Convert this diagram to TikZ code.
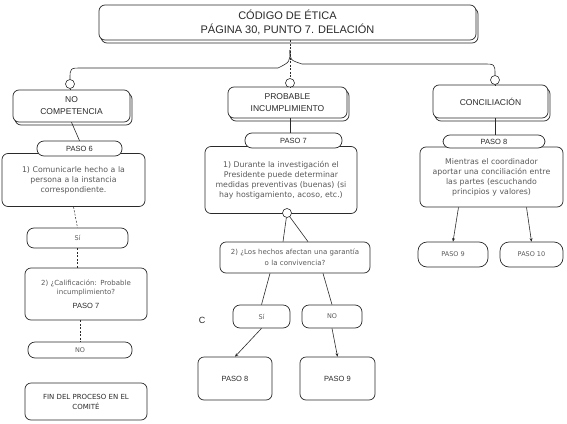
\documentclass[tikz,border=0pt]{standalone}
\usepackage{fontspec}
\setmainfont{Liberation Sans}
\newfontfamily\smallf{DejaVu Sans}
\usetikzlibrary{shadows,arrows.meta,calc}
\definecolor{ink}{HTML}{2A2A2A}
\definecolor{txt}{HTML}{5A5A5A}
\begin{document}
\begin{tikzpicture}[x=1pt,y=-1pt,
  line/.style={draw=ink, line width=0.6pt},
  dline/.style={draw=ink, line width=0.5pt, dash pattern=on 2pt off 1.5pt},
  arr/.style={line, -{Stealth[length=3.5pt,width=3pt]}},
  box/.style={draw=ink, line width=0.7pt, rounded corners=6pt, fill=white, inner sep=1pt, align=center, text=txt, font=\smallf\fontsize{7.8}{10}\selectfont},
  pill/.style={box, rounded corners=7pt, text=ink, font=\fontsize{7.5}{8}\selectfont},
  spill/.style={pill, text=txt, font=\smallf\fontsize{6.5}{8}\selectfont},
  head/.style={box, text=ink, font=\fontsize{8.5}{12}\selectfont, copy shadow={shadow xshift=2pt, shadow yshift=-3pt, draw=ink, fill=white}},
  knob/.style={circle, draw=ink, line width=0.6pt, fill=white, minimum size=9pt, inner sep=0pt}
]
\useasboundingbox (0,0) rectangle (567,423);

% ---- title ----
\node[head, minimum width=377pt, minimum height=35pt, font=\fontsize{11}{14}\selectfont] (title) at (287.5,22.5) {CÓDIGO DE ÉTICA\\PÁGINA 30, PUNTO 7. DELACIÓN};

% ---- branch knobs ----
\node[knob] (kno) at (70,84) {};
\node[knob] (kprob) at (290,83) {};
\node[knob] (kconc) at (495,80) {};

\coordinate (j) at (290,50);
\coordinate (jl) at (278,68);
\coordinate (jr) at (302,64);
\coordinate (lc) at (82,68);
\coordinate (rc) at (483,64);
\draw[line] (j) .. controls (290,62) .. (jl) -- (lc) .. controls (70,68) .. (kno.north);
\draw[line] (j) .. controls (290,60) .. (jr) -- (rc) .. controls (495,64) .. (kconc.north);
\draw[dline] (title.south -| j) -- (kprob.north);

% ---- left column ----
\node[head, minimum width=117pt, minimum height=32pt] (nocomp) at (71.5,106) {NO\\COMPETENCIA};
\node[box, minimum width=143pt, minimum height=53pt, text width=136pt] (lbox1) at (73.5,180) {1) Comunicarle hecho a la\\persona a la instancia\\correspondiente.};
\node[pill, minimum width=85pt, minimum height=15pt] (paso6) at (79.5,148.5) {PASO 6};
\node[spill, minimum width=101pt, minimum height=20pt] (lsi) at (77.5,238) {Sí};
\node[box, minimum width=122pt, minimum height=52pt, text width=118pt, font=\smallf\fontsize{7}{9.5}\selectfont] (lbox2) at (86,294) {2) ¿Calificación: Probable\\incumplimiento?\\[4pt]{\color{ink}\rmfamily\fontsize{7.5}{8}\selectfont PASO 7}};
\node[spill, minimum width=104pt, minimum height=16pt] (lno) at (80,350) {NO};
\node[box, minimum width=122pt, minimum height=37pt, text=ink, font=\smallf\fontsize{7}{10}\selectfont] (fin) at (86,401.5) {FIN DEL PROCESO EN EL\\COMITÉ};

\draw[line] (kno) -- (nocomp.north -| kno);
\draw[line] (nocomp.south) -- (paso6.north);
\draw[dline] (lbox1.south) -- (lsi.north);
\draw[dline] (lsi.south) -- (lbox2.north -| lsi.south);
\draw[dline] (lbox2.south -| lno.north) -- (lno.north);

% ---- middle column ----
\node[head, minimum width=119pt, minimum height=31pt] (prob) at (287.5,102.5) {PROBABLE\\INCUMPLIMIENTO};
\node[box, minimum width=152pt, minimum height=67pt, text width=148pt] (mbox) at (281,180) {1) Durante la investigación el\\Presidente puede determinar\\medidas preventivas (buenas) (si\\hay hostigamiento, acoso, etc.)};
\node[pill, minimum width=97pt, minimum height=15pt] (paso7) at (293.5,140.5) {PASO 7};
\node[knob] (kmid) at (287,213) {};
\node[box, minimum width=150pt, minimum height=31pt, text width=146pt, font=\smallf\fontsize{7}{11}\selectfont] (question) at (295,257.5) {2) ¿Los hechos afectan una garantía\\o la convivencia?};
\node[spill, minimum width=57pt, minimum height=23pt] (msi) at (261.5,316.5) {Sí};
\node[spill, minimum width=60pt, minimum height=23pt] (mno) at (332,316.5) {NO};
\node[box, minimum width=74pt, minimum height=43pt, text=ink, font=\fontsize{7.5}{8}\selectfont] (p8b) at (235,378.5) {PASO 8};
\node[box, minimum width=75pt, minimum height=43pt, text=ink, font=\fontsize{7.5}{8}\selectfont] (p9b) at (337.5,378.5) {PASO 9};
\node[text=ink, font=\fontsize{9}{10}\selectfont] (stray) at (202,320) {C};

\draw[line] (kprob) -- (prob.north -| kprob);
\draw[line] (prob.south -| kprob) -- (paso7.north -| kprob);
\draw[line] (kmid) -- ($(question.north)+(-12,0)$);
\draw[line] (kmid) -- ($(question.north)+(13,0)$);
\draw[line] ($(question.south)+(-25,0)$) -- (msi.north);
\draw[line] ($(question.south)+(28,0)$) -- (mno.north);
\draw[arr] (msi.south) -- (p8b.north);
\draw[arr] (mno.south) -- (p9b.north);

% ---- right column ----
\node[head, minimum width=115pt, minimum height=33pt] (conc) at (490.5,101.5) {CONCILIACIÓN};
\node[box, minimum width=143pt, minimum height=60pt, text width=139pt] (rbox) at (491.5,177) {Mientras el coordinador\\aportar una conciliación entre\\las partes (escuchando\\principios y valores)};
\node[pill, minimum width=102pt, minimum height=13pt] (paso8) at (494,141.5) {PASO 8};
\node[spill, minimum width=70pt, minimum height=25pt, rounded corners=9pt] (p9r) at (453,254.5) {PASO 9};
\node[spill, minimum width=63pt, minimum height=25pt, rounded corners=9pt] (p10r) at (531.5,254.5) {PASO 10};

\draw[line] (kconc) -- (conc.north -| kconc);
\draw[line] (conc.south -| kconc) -- (paso8.north -| kconc);
\draw[arr] ($(rbox.south)+(-33,0)$) -- (p9r.north);
\draw[arr] ($(rbox.south)+(35,0)$) -- (p10r.north);
\end{tikzpicture}
\end{document}
